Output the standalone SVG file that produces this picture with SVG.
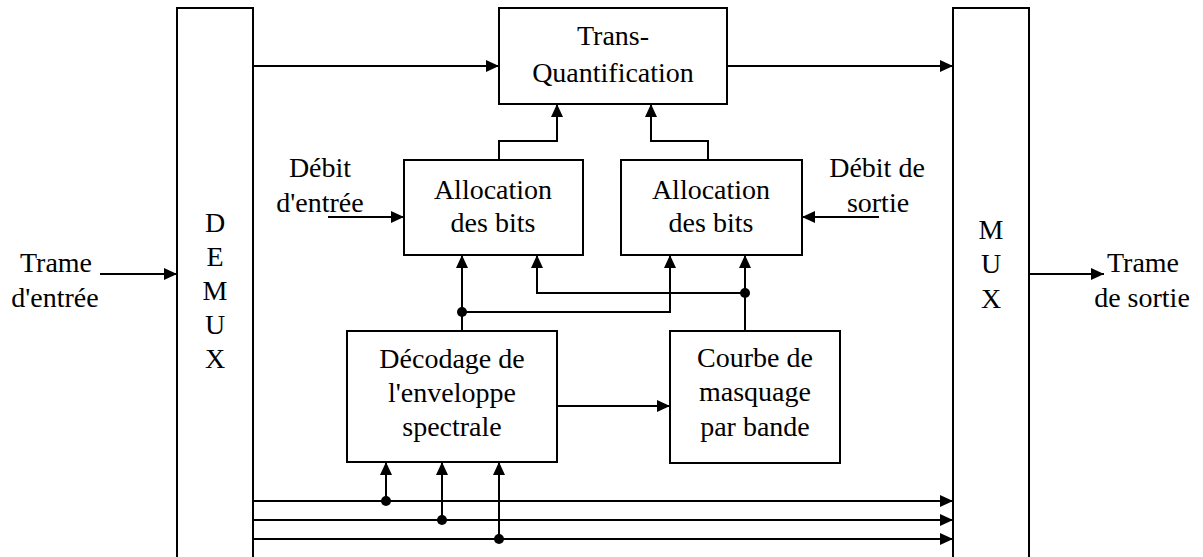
<svg xmlns="http://www.w3.org/2000/svg" width="1203" height="557" viewBox="0 0 1203 557">
<defs>
<marker id="ah" markerWidth="14" markerHeight="12" refX="13" refY="6" orient="auto" markerUnits="userSpaceOnUse">
<path d="M0,0 L13,6 L0,12 z" fill="#000"/>
</marker>
</defs>
<rect width="1203" height="557" fill="#fff"/>
<g id="demux">
<rect fill="#fff" stroke="#000" stroke-width="2" x="177" y="8" width="76" height="560"/>
<text font-family="Liberation Serif" font-size="28" text-anchor="middle" x="215" y="232">D</text>
<text font-family="Liberation Serif" font-size="28" text-anchor="middle" x="215" y="266">E</text>
<text font-family="Liberation Serif" font-size="28" text-anchor="middle" x="215" y="300">M</text>
<text font-family="Liberation Serif" font-size="28" text-anchor="middle" x="215" y="334">U</text>
<text font-family="Liberation Serif" font-size="28" text-anchor="middle" x="215" y="368">X</text>
</g>
<g id="mux">
<rect fill="#fff" stroke="#000" stroke-width="2" x="953" y="8" width="76" height="560"/>
<text font-family="Liberation Serif" font-size="28" text-anchor="middle" x="991" y="239">M</text>
<text font-family="Liberation Serif" font-size="28" text-anchor="middle" x="991" y="273">U</text>
<text font-family="Liberation Serif" font-size="28" text-anchor="middle" x="991" y="308">X</text>
</g>
<g id="transq">
<rect fill="#fff" stroke="#000" stroke-width="2" x="499" y="8" width="228" height="96"/>
<text font-family="Liberation Serif" font-size="28" text-anchor="middle" x="613" y="45">Trans-</text>
<text font-family="Liberation Serif" font-size="28" text-anchor="middle" x="613" y="82">Quantification</text>
</g>
<g id="alloc1">
<rect fill="#fff" stroke="#000" stroke-width="2" x="404" y="160" width="179" height="95"/>
<text font-family="Liberation Serif" font-size="28" text-anchor="middle" x="493" y="199">Allocation</text>
<text font-family="Liberation Serif" font-size="28" text-anchor="middle" x="493" y="232">des bits</text>
</g>
<g id="alloc2">
<rect fill="#fff" stroke="#000" stroke-width="2" x="621" y="160" width="181" height="95"/>
<text font-family="Liberation Serif" font-size="28" text-anchor="middle" x="711" y="199">Allocation</text>
<text font-family="Liberation Serif" font-size="28" text-anchor="middle" x="711" y="232">des bits</text>
</g>
<g id="decodage">
<rect fill="#fff" stroke="#000" stroke-width="2" x="347" y="331" width="210" height="131"/>
<text font-family="Liberation Serif" font-size="28" text-anchor="middle" x="452" y="368">Décodage de</text>
<text font-family="Liberation Serif" font-size="28" text-anchor="middle" x="452" y="402">l'enveloppe</text>
<text font-family="Liberation Serif" font-size="28" text-anchor="middle" x="452" y="436">spectrale</text>
</g>
<g id="courbe">
<rect fill="#fff" stroke="#000" stroke-width="2" x="670" y="331" width="170" height="132"/>
<text font-family="Liberation Serif" font-size="28" text-anchor="middle" x="755" y="367">Courbe de</text>
<text font-family="Liberation Serif" font-size="28" text-anchor="middle" x="755" y="401">masquage</text>
<text font-family="Liberation Serif" font-size="28" text-anchor="middle" x="755" y="436">par bande</text>
</g>
<g id="labels">
<text font-family="Liberation Serif" font-size="28" text-anchor="middle" x="56" y="272">Trame</text>
<text font-family="Liberation Serif" font-size="28" text-anchor="middle" x="55" y="307">d'entrée</text>
<text font-family="Liberation Serif" font-size="28" text-anchor="middle" x="1143" y="272">Trame</text>
<text font-family="Liberation Serif" font-size="28" text-anchor="middle" x="1142" y="307">de sortie</text>
<text font-family="Liberation Serif" font-size="28" text-anchor="middle" x="320" y="177">Débit</text>
<text font-family="Liberation Serif" font-size="28" text-anchor="middle" x="320" y="212">d'entrée</text>
<text font-family="Liberation Serif" font-size="28" text-anchor="middle" x="877" y="177">Débit de</text>
<text font-family="Liberation Serif" font-size="28" text-anchor="middle" x="878" y="212">sortie</text>
</g>
<g id="connectors" fill="none" stroke="#000" stroke-width="2" marker-end="url(#ah)">
<path d="M100,274 H177"/>
<path d="M1029,274 H1104"/>
<path d="M253,66 H499"/>
<path d="M727,66 H953"/>
<path d="M499,160 V141 H557 V104"/>
<path d="M708,160 V141 H651 V104"/>
<path d="M328,217 H404"/>
<path d="M879,217 H802"/>
<path d="M462,331 V255"/>
<path d="M462,312 H670 V255"/>
<path d="M745,331 V255"/>
<path d="M745,293 H537 V255"/>
<path d="M557,406 H670"/>
<path d="M253,501 H953"/>
<path d="M253,520 H953"/>
<path d="M253,539 H953"/>
<path d="M386,501 V462"/>
<path d="M442,520 V462"/>
<path d="M499,539 V462"/>
</g>
<g id="junctions" fill="#000">
<circle cx="462" cy="312" r="5"/>
<circle cx="745" cy="293" r="5"/>
<circle cx="386" cy="501" r="5"/>
<circle cx="442" cy="520" r="5"/>
<circle cx="499" cy="539" r="5"/>
</g>
</svg>
